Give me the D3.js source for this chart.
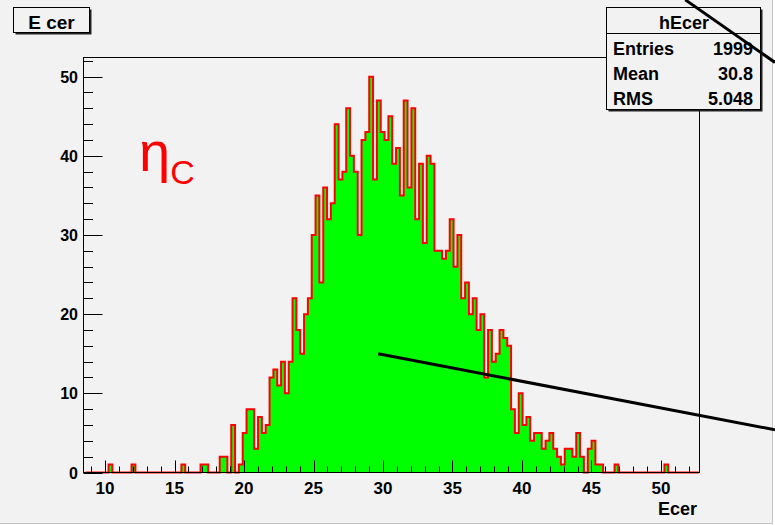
<!DOCTYPE html>
<html>
<head>
<meta charset="utf-8">
<script src="https://cdn.jsdelivr.net/npm/d3@7"></script>
<style>
  html, body { margin: 0; padding: 0; background: #ffffff; }
  svg { display: block; }
  text { font-family: "Liberation Sans", Arial, Helvetica, sans-serif; }
</style>
</head>
<body>
<svg id="chart" width="775" height="525"></svg>
<script>
// histogram binning (hEcer)
const binLo = 8.6;
const binWidth = 0.2758;
const counts = [
  0, 0, 0, 0, 0, 0, 1, 0, 0, 0,
  0, 0, 1, 0, 0, 0, 0, 0, 0, 0,
  0, 0, 0, 0, 0, 1, 0, 0, 0, 0,
  1, 1, 0, 0, 0, 2, 2, 0, 6, 0,
  1, 5, 8, 8, 3, 7, 5, 6, 12, 13,
  11, 14, 10, 14, 22, 18, 15, 20, 22, 30,
  35, 24, 36, 32, 34, 44, 37, 38, 46, 40,
  38, 30, 42, 43, 50, 37, 47, 43, 42, 45,
  39, 41, 35, 47, 36, 46, 32, 39, 29, 40,
  39, 28, 28, 27, 28, 32, 26, 30, 22, 24,
  20, 22, 18, 20, 12, 18, 14, 15, 18, 17,
  16, 8, 5, 10, 6, 7, 4, 5, 5, 3,
  4, 5, 3, 2, 1, 3, 3, 2, 5, 2,
  0, 3, 4, 1, 1, 0, 0, 0, 1, 0,
  0, 0, 0, 0, 0, 0, 0, 0, 0, 0,
  0, 1, 0, 0, 0, 0, 0, 0, 0, 0
];

// axis ranges and ticks
const xDomain = [8.453, 52.77];
const yDomain = [0, 52.42];
const xTicks = [10, 15, 20, 25, 30, 35, 40, 45, 50];
const yTicks = [0, 10, 20, 30, 40, 50];

// stats box
const histName = "hEcer";
const statLabels = ["Entries", "Mean", "RMS"];
const statValues = ["1999", "30.8", "5.048"];

// annotation lines, in data coordinates
const arrowLines = [
  [[29.66, 15.0], [58.2, 5.39]],
  [[51.75, 59.7], [58.2, 51.8]]
];

const W = 775, H = 525;
const frame = { left: 83.5, right: 699.5, top: 57.5, bottom: 472.5 };

const svg = d3.select("#chart");

const x = d3.scaleLinear().domain(xDomain).range([frame.left, frame.right]);
const y = d3.scaleLinear().domain(yDomain).range([frame.bottom, frame.top]);

// canvas background
svg.append("rect").attr("x", 0).attr("y", 0).attr("width", 773).attr("height", 523)
  .attr("fill", "#f2f2f2");
svg.append("line").attr("x1", 772.5).attr("x2", 772.5).attr("y1", 0).attr("y2", 523.5)
  .attr("stroke", "#c4c4c4").attr("stroke-width", 1);
svg.append("line").attr("x1", 0).attr("x2", 773).attr("y1", 523.5).attr("y2", 523.5)
  .attr("stroke", "#c4c4c4").attr("stroke-width", 1);

// histogram as step path
const bins = counts.map((c, i) => ({ x0: binLo + i * binWidth, x1: binLo + (i + 1) * binWidth, n: c }));

const area = d3.area()
  .curve(d3.curveStepAfter)
  .x(d => x(d.x))
  .y0(y(0))
  .y1(d => y(d.n));

const stepPts = bins.map(b => ({ x: b.x0, n: b.n }));
stepPts.push({ x: bins[bins.length - 1].x1, n: 0 });

svg.append("path")
  .datum(stepPts)
  .attr("d", area)
  .attr("fill", "#00ff00");

const outline = d3.line()
  .curve(d3.curveStepAfter)
  .x(d => x(d.x))
  .y(d => y(d.n));

const linePts = [{ x: bins[0].x0, n: 0 }].concat(stepPts);
svg.append("path")
  .datum(linePts)
  .attr("d", outline)
  .attr("fill", "none")
  .attr("stroke", "#ff0000")
  .attr("stroke-width", 2);

// x axis: major + minor ticks pointing up into the frame
const xMinor = d3.range(9, 53, 1);
const gx = svg.append("g");
gx.selectAll("line.minor").data(xMinor).join("line")
  .attr("x1", d => Math.round(x(d)) + 0.5).attr("x2", d => Math.round(x(d)) + 0.5)
  .attr("y1", frame.bottom).attr("y2", d => frame.bottom - (d % 5 === 0 ? 12 : 6))
  .attr("stroke", "#000").attr("stroke-width", 1);
gx.selectAll("text").data(xTicks).join("text")
  .attr("x", d => x(d)).attr("y", 494)
  .attr("text-anchor", "middle")
  .attr("font-size", 17).attr("font-weight", "bold")
  .text(d => d);

// y axis: major + minor ticks pointing right
const yMinor = d3.range(0, 53, 2);
const gy = svg.append("g");
gy.selectAll("line").data(yMinor).join("line")
  .attr("x1", frame.left).attr("x2", d => frame.left + (d % 10 === 0 ? 19 : 9.5))
  .attr("y1", d => Math.round(y(d)) + 0.5).attr("y2", d => Math.round(y(d)) + 0.5)
  .attr("stroke", "#000").attr("stroke-width", 1);
gy.selectAll("text").data(yTicks).join("text")
  .attr("x", 78).attr("y", d => y(d) + 6)
  .attr("text-anchor", "end")
  .attr("font-size", 16).attr("font-weight", "bold")
  .text(d => d);

// frame
svg.append("rect")
  .attr("x", frame.left).attr("y", frame.top)
  .attr("width", frame.right - frame.left).attr("height", frame.bottom - frame.top)
  .attr("fill", "none").attr("stroke", "#000").attr("stroke-width", 1);

// axis title
svg.append("text").attr("x", 697).attr("y", 515)
  .attr("text-anchor", "end").attr("font-size", 18).attr("font-weight", "bold")
  .text("Ecer");

// title box
function shadowBox(x0, y0, w, h) {
  svg.append("rect").attr("x", x0 + 2).attr("y", y0 + 2).attr("width", w).attr("height", h)
    .attr("fill", "#222");
  svg.append("rect").attr("x", x0).attr("y", y0).attr("width", w).attr("height", h)
    .attr("fill", "#f2f2f2").attr("stroke", "#000").attr("stroke-width", 1);
}
shadowBox(13.5, 7.5, 76, 25);
svg.append("text").attr("x", 51.5).attr("y", 28.5)
  .attr("text-anchor", "middle").attr("font-size", 19).attr("font-weight", "bold")
  .text("E cer");

// stats box
shadowBox(606.5, 7.5, 154, 102);
svg.append("line").attr("x1", 606.5).attr("x2", 760.5).attr("y1", 33.5).attr("y2", 33.5)
  .attr("stroke", "#000").attr("stroke-width", 1);
svg.append("text").attr("x", 684).attr("y", 29)
  .attr("text-anchor", "middle").attr("font-size", 18).attr("font-weight", "bold")
  .text(histName);
statLabels.forEach((s, i) => {
  const yy = 54.5 + i * 25.2;
  svg.append("text").attr("x", 613).attr("y", yy)
    .attr("font-size", 18).attr("font-weight", "bold").text(s);
  svg.append("text").attr("x", 753).attr("y", yy).attr("text-anchor", "end")
    .attr("font-size", 18).attr("font-weight", "bold").text(statValues[i]);
});

// eta_c label
const lab = svg.append("text").attr("x", 139).attr("y", 171).attr("fill", "#ff0000");
lab.append("tspan").attr("font-size", 56).text("η");
lab.append("tspan").attr("font-size", 34).attr("dy", 13).text("C");

// black annotation lines
svg.selectAll("line.arrow").data(arrowLines).join("line")
  .attr("class", "arrow")
  .attr("x1", d => x(d[0][0])).attr("y1", d => y(d[0][1]))
  .attr("x2", d => x(d[1][0])).attr("y2", d => y(d[1][1]))
  .attr("stroke", "#000").attr("stroke-width", 3);
</script>
</body>
</html>
